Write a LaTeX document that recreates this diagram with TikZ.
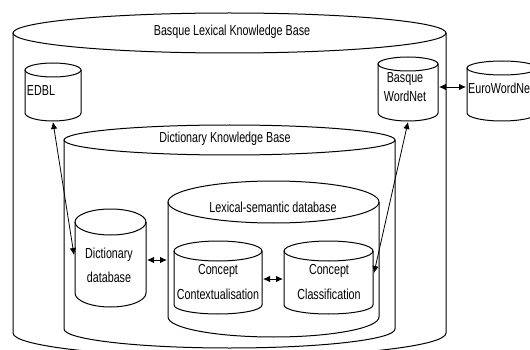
\documentclass[tikz,border=0pt]{standalone}
\usepackage{fontspec}
\setmainfont{Liberation Sans}[FakeStretch=0.74]
\usetikzlibrary{arrows.meta}
\tikzset{
  cyl/.style={draw=black, line width=1pt},
  lbl/.style={inner sep=0pt, font=\fontsize{14.5}{17}\selectfont, align=center},
  link/.style={line width=0.8pt, {Latex[length=7pt,width=6.5pt]}-{Latex[length=7pt,width=6.5pt]}},
}
\newcommand{\dbcyl}[6]{%
  \pgfmathsetmacro{\cylcx}{(#1+#2)/2}%
  \pgfmathsetmacro{\cylrx}{(#2-#1)/2}%
  \draw[cyl] (\cylcx,#3) ellipse[x radius=\cylrx, y radius=#4];
  \draw[cyl] (#1,#3) -- (#1,#5) arc[start angle=180, end angle=0, x radius=\cylrx, y radius=#6] -- (#2,#3);
}
\begin{document}
\begin{tikzpicture}[x=1pt, y=1pt, yscale=-1]
\useasboundingbox (0,0) rectangle (530,350);
\clip (0,0) rectangle (530,350);
\fill[white] (0,0) rectangle (530,350);
% cylinders
\dbcyl{13}{446}{33}{20}{333}{24}
\dbcyl{25}{81}{70}{7}{113}{8}
\dbcyl{378}{438}{64}{7}{113}{8}
\dbcyl{467}{537}{68}{7}{113}{8}
\dbcyl{64}{395}{140}{15}{329}{19}
\dbcyl{168}{379}{202}{21}{317}{20}
\dbcyl{75}{146}{222}{13}{293}{14}
\dbcyl{174}{262}{251}{10}{305}{9}
\dbcyl{284}{373}{251}{10}{305}{9}
% labels
\node[lbl] (blkb) at (232,32) {Basque Lexical Knowledge Base};
\node[lbl] (edbl) at (41,91) {EDBL};
\node[lbl, font=\fontsize{14.5}{19}\selectfont] (bwn) at (405,87.5) {Basque\\WordNet};
\node[lbl, anchor=west] (ewn) at (468,88) {EuroWordNet};
\node[lbl] (dkb) at (225,139) {Dictionary Knowledge Base};
\node[lbl] (lex) at (273,207) {Lexical-semantic database};
\node[lbl, font=\fontsize{14.5}{24}\selectfont] (dictdb) at (109,265) {Dictionary\\database};
\node[lbl, font=\fontsize{14.5}{25}\selectfont] (conctx) at (218,282.5) {Concept\\Contextualisation};
\node[lbl, font=\fontsize{14.5}{25}\selectfont] (concls) at (329,282.5) {Concept\\Classification};
% connector ends
\coordinate (edbl-s) at (53,122);
\coordinate (dictdb-w) at (74,255);
\coordinate (bwn-s) at (408,122);
\coordinate (concls-e) at (374,273);
\coordinate (bwn-e) at (439,87);
\coordinate (ewn-w) at (466,87);
\coordinate (dictdb-e) at (147,260);
\coordinate (lex-w) at (167,260);
\coordinate (conctx-e) at (263,279);
\coordinate (concls-w) at (283,279);
% connectors
\draw[link] (edbl-s) -- (dictdb-w);
\draw[link] (bwn-s) -- (concls-e);
\draw[link] (bwn-e) -- (ewn-w);
\draw[link] (dictdb-e) -- (lex-w);
\draw[link] (conctx-e) -- (concls-w);
\end{tikzpicture}
\end{document}
